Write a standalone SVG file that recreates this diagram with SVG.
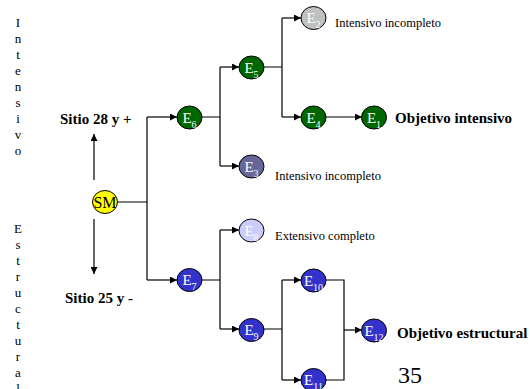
<svg xmlns="http://www.w3.org/2000/svg" width="530" height="389" viewBox="0 0 530 389">
<defs>
<marker id="ah" markerUnits="userSpaceOnUse" markerWidth="7" markerHeight="7" refX="7" refY="3.5" orient="auto">
<path d="M0,0 L7,3.5 L0,7 z" fill="#000"/>
</marker>
<style>
.n{stroke:#000;stroke-width:1}
.g{fill:#006600}.b{fill:#3333cc}.s{fill:#666699}.gr{fill:#c0c0c0}.l{fill:#ccccff}
.lb{font-family:"Liberation Serif",serif;font-size:15px;fill:#fff;text-anchor:middle}
.sub{font-size:10px}
.t{font-family:"Liberation Serif",serif;font-size:12.5px;fill:#000}
.bt{font-family:"Liberation Serif",serif;font-size:15px;font-weight:bold;fill:#000}
.v{font-family:"Liberation Serif",serif;font-size:13px;fill:#000;text-anchor:middle}
.c{fill:none;stroke:#000;stroke-width:1.2}
.a{marker-end:url(#ah)}
</style>
</defs>
<rect width="530" height="389" fill="#fff"/>
<g id="connectors">
<path class="c" d="M117,202 H147 M147,117 V280 M202,117 H220 M220,67 V166 M263,67 H282 M282,18 V117 M202,280 H220 M220,230 V329 M263,329 H282 M282,280 V380 M325,280 H344 V380 H325"/>
<path class="c a" d="M147,117 H177"/>
<path class="c a" d="M147,280 H177"/>
<path class="c a" d="M220,67 H239"/>
<path class="c a" d="M220,166 H239"/>
<path class="c a" d="M282,18 H301"/>
<path class="c a" d="M282,117 H301"/>
<path class="c a" d="M325,117 H362"/>
<path class="c a" d="M220,230 H239"/>
<path class="c a" d="M220,329 H239"/>
<path class="c a" d="M282,280 H301"/>
<path class="c a" d="M282,380 H301"/>
<path class="c a" d="M344,330 H362"/>
<path class="c a" d="M94,180 V134"/>
<path class="c a" d="M94,219 V274"/>
</g>
<g id="SM"><ellipse class="n" cx="105" cy="202" rx="12.5" ry="11.5" fill="#ffff00"/><text x="105" y="207.5" font-family="Liberation Serif,serif" font-size="16" text-anchor="middle">SM</text></g>
<g id="E6"><ellipse class="n g" cx="189.5" cy="117.5" rx="12.5" ry="11.5"/><text class="lb" x="189.5" y="122.5">E<tspan class="sub" dy="5">6</tspan></text></g>
<g id="E7"><ellipse class="n b" cx="189.5" cy="280" rx="12.5" ry="11.5"/><text class="lb" x="189.5" y="285">E<tspan class="sub" dy="5">7</tspan></text></g>
<g id="E5"><ellipse class="n g" cx="251.5" cy="67.5" rx="12.5" ry="11.5"/><text class="lb" x="251.5" y="72.5">E<tspan class="sub" dy="5">5</tspan></text></g>
<g id="E3"><ellipse class="n s" cx="251.5" cy="166.5" rx="12.5" ry="11.5"/><text class="lb" x="251.5" y="171.5">E<tspan class="sub" dy="5">3</tspan></text></g>
<g id="E2"><ellipse class="n gr" cx="313.5" cy="18" rx="12.5" ry="11.5"/><text class="lb" x="313.5" y="23">E<tspan class="sub" dy="5">2</tspan></text></g>
<g id="E4"><ellipse class="n g" cx="313.5" cy="117.5" rx="12.5" ry="11.5"/><text class="lb" x="313.5" y="122.5">E<tspan class="sub" dy="5">4</tspan></text></g>
<g id="E1"><ellipse class="n g" cx="374" cy="117.5" rx="12.5" ry="11.5"/><text class="lb" x="374" y="122.5">E<tspan class="sub" dy="5">1</tspan></text></g>
<g id="E8"><ellipse class="n l" cx="251.5" cy="230.5" rx="12.5" ry="11.5"/><text class="lb" x="251.5" y="235.5">E<tspan class="sub" dy="5">8</tspan></text></g>
<g id="E9"><ellipse class="n b" cx="251.5" cy="330" rx="12.5" ry="11.5"/><text class="lb" x="251.5" y="335">E<tspan class="sub" dy="5">9</tspan></text></g>
<g id="E10"><ellipse class="n b" cx="313.5" cy="280.5" rx="12.5" ry="11.5"/><text class="lb" x="313.5" y="285.5">E<tspan class="sub" dy="5">10</tspan></text></g>
<g id="E11"><ellipse class="n b" cx="313.5" cy="380" rx="12.5" ry="11.5"/><text class="lb" x="313.5" y="385">E<tspan class="sub" dy="5">11</tspan></text></g>
<g id="E12"><ellipse class="n b" cx="374" cy="330.5" rx="12.5" ry="11.5"/><text class="lb" x="374" y="335.5">E<tspan class="sub" dy="5">12</tspan></text></g>
<g id="labels">
<text class="bt" x="60" y="124">Sitio 28 y +</text>
<text class="bt" x="65" y="303">Sitio 25 y -</text>
<text class="bt" x="395" y="123">Objetivo intensivo</text>
<text class="bt" x="397" y="338">Objetivo estructural</text>
<text class="t" x="335" y="27">Intensivo incompleto</text>
<text class="t" x="275" y="180">Intensivo incompleto</text>
<text class="t" x="275" y="240">Extensivo completo</text>
<text x="398" y="383" font-family="Liberation Serif,serif" font-size="24">35</text>
</g>
<g id="vertical-text">
<text class="v" x="18" y="27">I</text>
<text class="v" x="18" y="43">n</text>
<text class="v" x="18" y="59">t</text>
<text class="v" x="18" y="75">e</text>
<text class="v" x="18" y="91">n</text>
<text class="v" x="18" y="107">s</text>
<text class="v" x="18" y="123">i</text>
<text class="v" x="18" y="139">v</text>
<text class="v" x="18" y="155">o</text>
<text class="v" x="18" y="233">E</text>
<text class="v" x="18" y="249">s</text>
<text class="v" x="18" y="265">t</text>
<text class="v" x="18" y="281">r</text>
<text class="v" x="18" y="297">u</text>
<text class="v" x="18" y="313">c</text>
<text class="v" x="18" y="329">t</text>
<text class="v" x="18" y="345">u</text>
<text class="v" x="18" y="361">r</text>
<text class="v" x="18" y="377">a</text>
<text class="v" x="18" y="393">l</text>
</g>
</svg>
